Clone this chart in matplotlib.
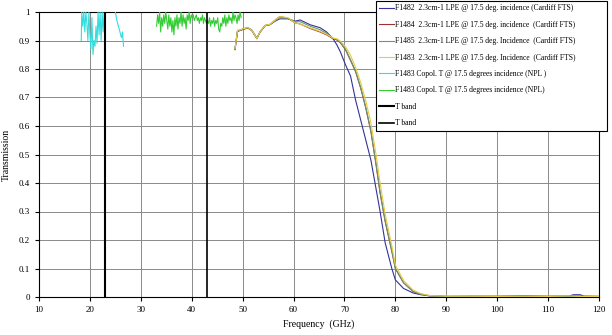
import numpy as np
import matplotlib
matplotlib.use("Agg")
import matplotlib.pyplot as plt

plt.rcParams['font.family'] = ['Liberation Serif', 'DejaVu Serif']

# --- Cardiff FTS spectra (shared frequency grid, GHz) ---
fts_freq = [48.5, 49.0, 49.5, 50.0, 51.0, 51.8, 52.8, 53.4, 54.4, 55.4, 56.4, 57.3,
            58.9, 60.3, 61.3, 63.3, 65.2, 66.5, 67.8, 68.5, 69.2, 70.2, 71.2, 72.2,
            73.2, 74.2, 75.2, 76.2, 77.0, 78.0, 79.3, 80.0, 81.6, 83.5, 85.0, 86.8,
            90.0, 95.0, 100.0, 105.0, 110.0, 114.0, 115.0, 116.3, 117.0, 120.0]

f1482 = [0.870, 0.932, 0.935, 0.940, 0.944, 0.936, 0.908, 0.930, 0.952, 0.956, 0.968, 0.976,
         0.976, 0.968, 0.972, 0.955, 0.945, 0.930, 0.905, 0.885, 0.860, 0.815, 0.775, 0.690,
         0.620, 0.550, 0.480, 0.380, 0.300, 0.190, 0.100, 0.060, 0.030, 0.014, 0.008, 0.004,
         0.002, 0.002, 0.002, 0.003, 0.002, 0.003, 0.008, 0.008, 0.003, 0.002]

f1484 = [0.868, 0.934, 0.936, 0.938, 0.944, 0.935, 0.906, 0.928, 0.952, 0.956, 0.972, 0.984,
         0.978, 0.962, 0.958, 0.942, 0.930, 0.920, 0.906, 0.902, 0.892, 0.868, 0.830, 0.790,
         0.732, 0.662, 0.580, 0.465, 0.365, 0.265, 0.160, 0.100, 0.050, 0.019, 0.010, 0.004,
         0.002, 0.003, 0.002, 0.004, 0.002, 0.003, 0.004, 0.003, 0.002, 0.002]

f1485 = [0.870, 0.935, 0.936, 0.940, 0.946, 0.937, 0.908, 0.930, 0.953, 0.957, 0.970, 0.980,
         0.978, 0.966, 0.966, 0.950, 0.938, 0.925, 0.908, 0.904, 0.894, 0.870, 0.832, 0.792,
         0.735, 0.665, 0.583, 0.468, 0.368, 0.268, 0.163, 0.100, 0.050, 0.019, 0.010, 0.004,
         0.002, 0.002, 0.003, 0.002, 0.003, 0.002, 0.003, 0.003, 0.002, 0.002]

f1483 = [0.872, 0.936, 0.937, 0.941, 0.945, 0.936, 0.907, 0.929, 0.953, 0.957, 0.972, 0.984,
         0.980, 0.962, 0.958, 0.944, 0.932, 0.922, 0.908, 0.906, 0.898, 0.878, 0.848, 0.805,
         0.752, 0.688, 0.610, 0.500, 0.400, 0.290, 0.180, 0.112, 0.058, 0.024, 0.012, 0.005,
         0.003, 0.003, 0.002, 0.003, 0.002, 0.004, 0.003, 0.002, 0.002, 0.002]

# --- NPL copolar transmission ---
npl_a_freq = [18.3, 18.4, 18.6, 18.8, 19.0, 19.2, 19.4, 19.6, 19.8, 20.0, 20.2, 20.4,
              20.6, 20.8, 21.0, 21.2, 21.4, 21.6, 21.8, 22.0, 22.2, 22.4, 22.6, 22.8,
              np.nan, 25.0, 25.3, 25.6, 25.9, 26.2, 26.4, 26.6]
npl_a = [0.90, 1.00, 0.95, 1.00, 0.93, 1.00, 0.96, 0.90, 1.00, 0.92, 0.87, 0.98,
         0.85, 0.90, 0.88, 0.95, 0.89, 1.00, 0.92, 1.00, 0.90, 1.00, 0.93, 1.00,
         np.nan, 1.00, 0.97, 0.95, 0.93, 0.91, 0.93, 0.88]

npl_b_freq = [33.1, 33.3, 33.5, 33.7, 33.9, 34.1, 34.3, 34.5, 34.7, 34.9, 35.1, 35.3,
              35.5, 35.7, 35.9, 36.1, 36.3, 36.5, 36.7, 36.9, 37.1, 37.3, 37.5, 37.7,
              37.9, 38.1, 38.3, 38.5, 38.7, 38.9, 39.1, 39.3, 39.5, 39.7, 39.9, 40.1,
              40.3, 40.5, 40.7, 40.9, 41.1, 41.3, 41.5, 41.7, 41.9, 42.1, 42.3, 42.5,
              42.7, 42.9, 43.1, 43.3, 43.5, 43.7, 43.9, 44.1, 44.3, 44.5, 44.7, 44.9,
              45.1, 45.3, 45.5, 45.7, 45.9, 46.1, 46.3, 46.5, 46.7, 46.9, 47.1, 47.3,
              47.5, 47.7, 47.9, 48.1, 48.3, 48.5, 48.7, 48.9, 49.1, 49.3, 49.5, 49.7]
npl_b = [0.95, 0.99, 0.96, 1.00, 0.93, 0.98, 0.95, 0.99, 0.96, 1.00, 0.97, 0.94,
         0.99, 0.95, 0.98, 0.93, 0.97, 0.92, 0.98, 0.95, 0.99, 0.94, 0.98, 0.96,
         1.00, 0.95, 0.99, 0.96, 0.98, 0.94, 0.99, 0.97, 1.00, 0.96, 0.99, 0.98,
         0.99, 0.97, 0.98, 0.99, 0.97, 0.98, 0.96, 0.98, 0.97, 0.99, 0.96, 0.98,
         0.97, 0.96, 0.97, 0.96, 0.98, 0.95, 0.97, 0.96, 0.98, 0.95, 0.97, 0.96,
         0.98, 0.94, 0.93, 0.96, 0.95, 0.98, 0.96, 0.99, 0.95, 0.98, 0.96, 0.99,
         0.97, 0.98, 0.96, 1.00, 0.97, 0.99, 0.98, 0.96, 0.99, 0.97, 1.00, 0.98]

# T band markers
tband_a = [23.0, 23.0]
tband_b = [43.0, 43.0]
tband_y = [0.0, 1.0]

labels = [
    "F1482  2.3cm-1 LPE @ 17.5 deg. incidence (Cardiff FTS)",
    "F1484  2.3cm-1 LPE @ 17.5 deg. incidence  (Cardiff FTS)",
    "F1485  2.3cm-1 LPE @ 17.5 deg. Incidence  (Cardiff FTS)",
    "F1483  2.3cm-1 LPE @ 17.5 deg. Incidence  (Cardiff FTS)",
    "F1483 Copol. T @ 17.5 degrees incidence (NPL )",
    "F1483 Copol. T @ 17.5 degrees incidence (NPL)",
    "T band",
    "T band",
]

fig = plt.figure(figsize=(6.12, 3.35), dpi=100)
ax = fig.add_axes([39 / 612, 1 - 297 / 335, 560 / 612, 285 / 335])

lw = 0.8
ax.plot(fts_freq, f1482, color='#333399', lw=lw, label=labels[0], zorder=3)
ax.plot(fts_freq, f1484, color='#993333', lw=lw, label=labels[1], zorder=3)
ax.plot(fts_freq, f1485, color='#669977', lw=lw, label=labels[2], zorder=3)
ax.plot(fts_freq, f1483, color='#e8cc40', lw=lw, label=labels[3], zorder=3)
ax.plot(npl_a_freq, npl_a, color='#33dddd', lw=lw, label=labels[4], zorder=3)
ax.plot(npl_b_freq, npl_b, color='#33cc33', lw=lw, label=labels[5], zorder=3)
ax.plot(tband_a, tband_y, color='black', lw=1.5, label=labels[6], zorder=4)
ax.plot(tband_b, tband_y, color='black', lw=1.2, label=labels[7], zorder=4)

ax.set_xlim(10, 120)
ax.set_ylim(0, 1)
ax.set_xticks(np.arange(10, 121, 10))
ax.set_yticks(np.arange(0, 1.01, 0.1))
ax.set_yticklabels(['0', '0.1', '0.2', '0.3', '0.4', '0.5', '0.6', '0.7', '0.8', '0.9', '1'])
ax.grid(True, color='#8a8a8a', lw=0.7)
ax.set_axisbelow(True)
for s in ax.spines.values():
    s.set_color('black')
    s.set_linewidth(0.8)
ax.tick_params(labelsize=6.5, length=3, width=0.8, colors='black')

ax.set_xlabel('Frequency  (GHz)', fontsize=7)
ax.set_ylabel('Transmission', fontsize=7, labelpad=6)

# legend box stretched wider than its text, anchored at the top right corner
leg = fig.legend(loc='upper left', bbox_to_anchor=(376 / 612, 1 - 1 / 335, 231 / 612, 0.0),
                 mode='expand', fontsize=5.5, frameon=True, fancybox=False, framealpha=1,
                 edgecolor='black', handlelength=1.9, handletextpad=0.1,
                 labelspacing=1.1, borderpad=0.45, borderaxespad=0)
leg.get_frame().set_linewidth(0.8)

fig.savefig('out.png', dpi=100)
